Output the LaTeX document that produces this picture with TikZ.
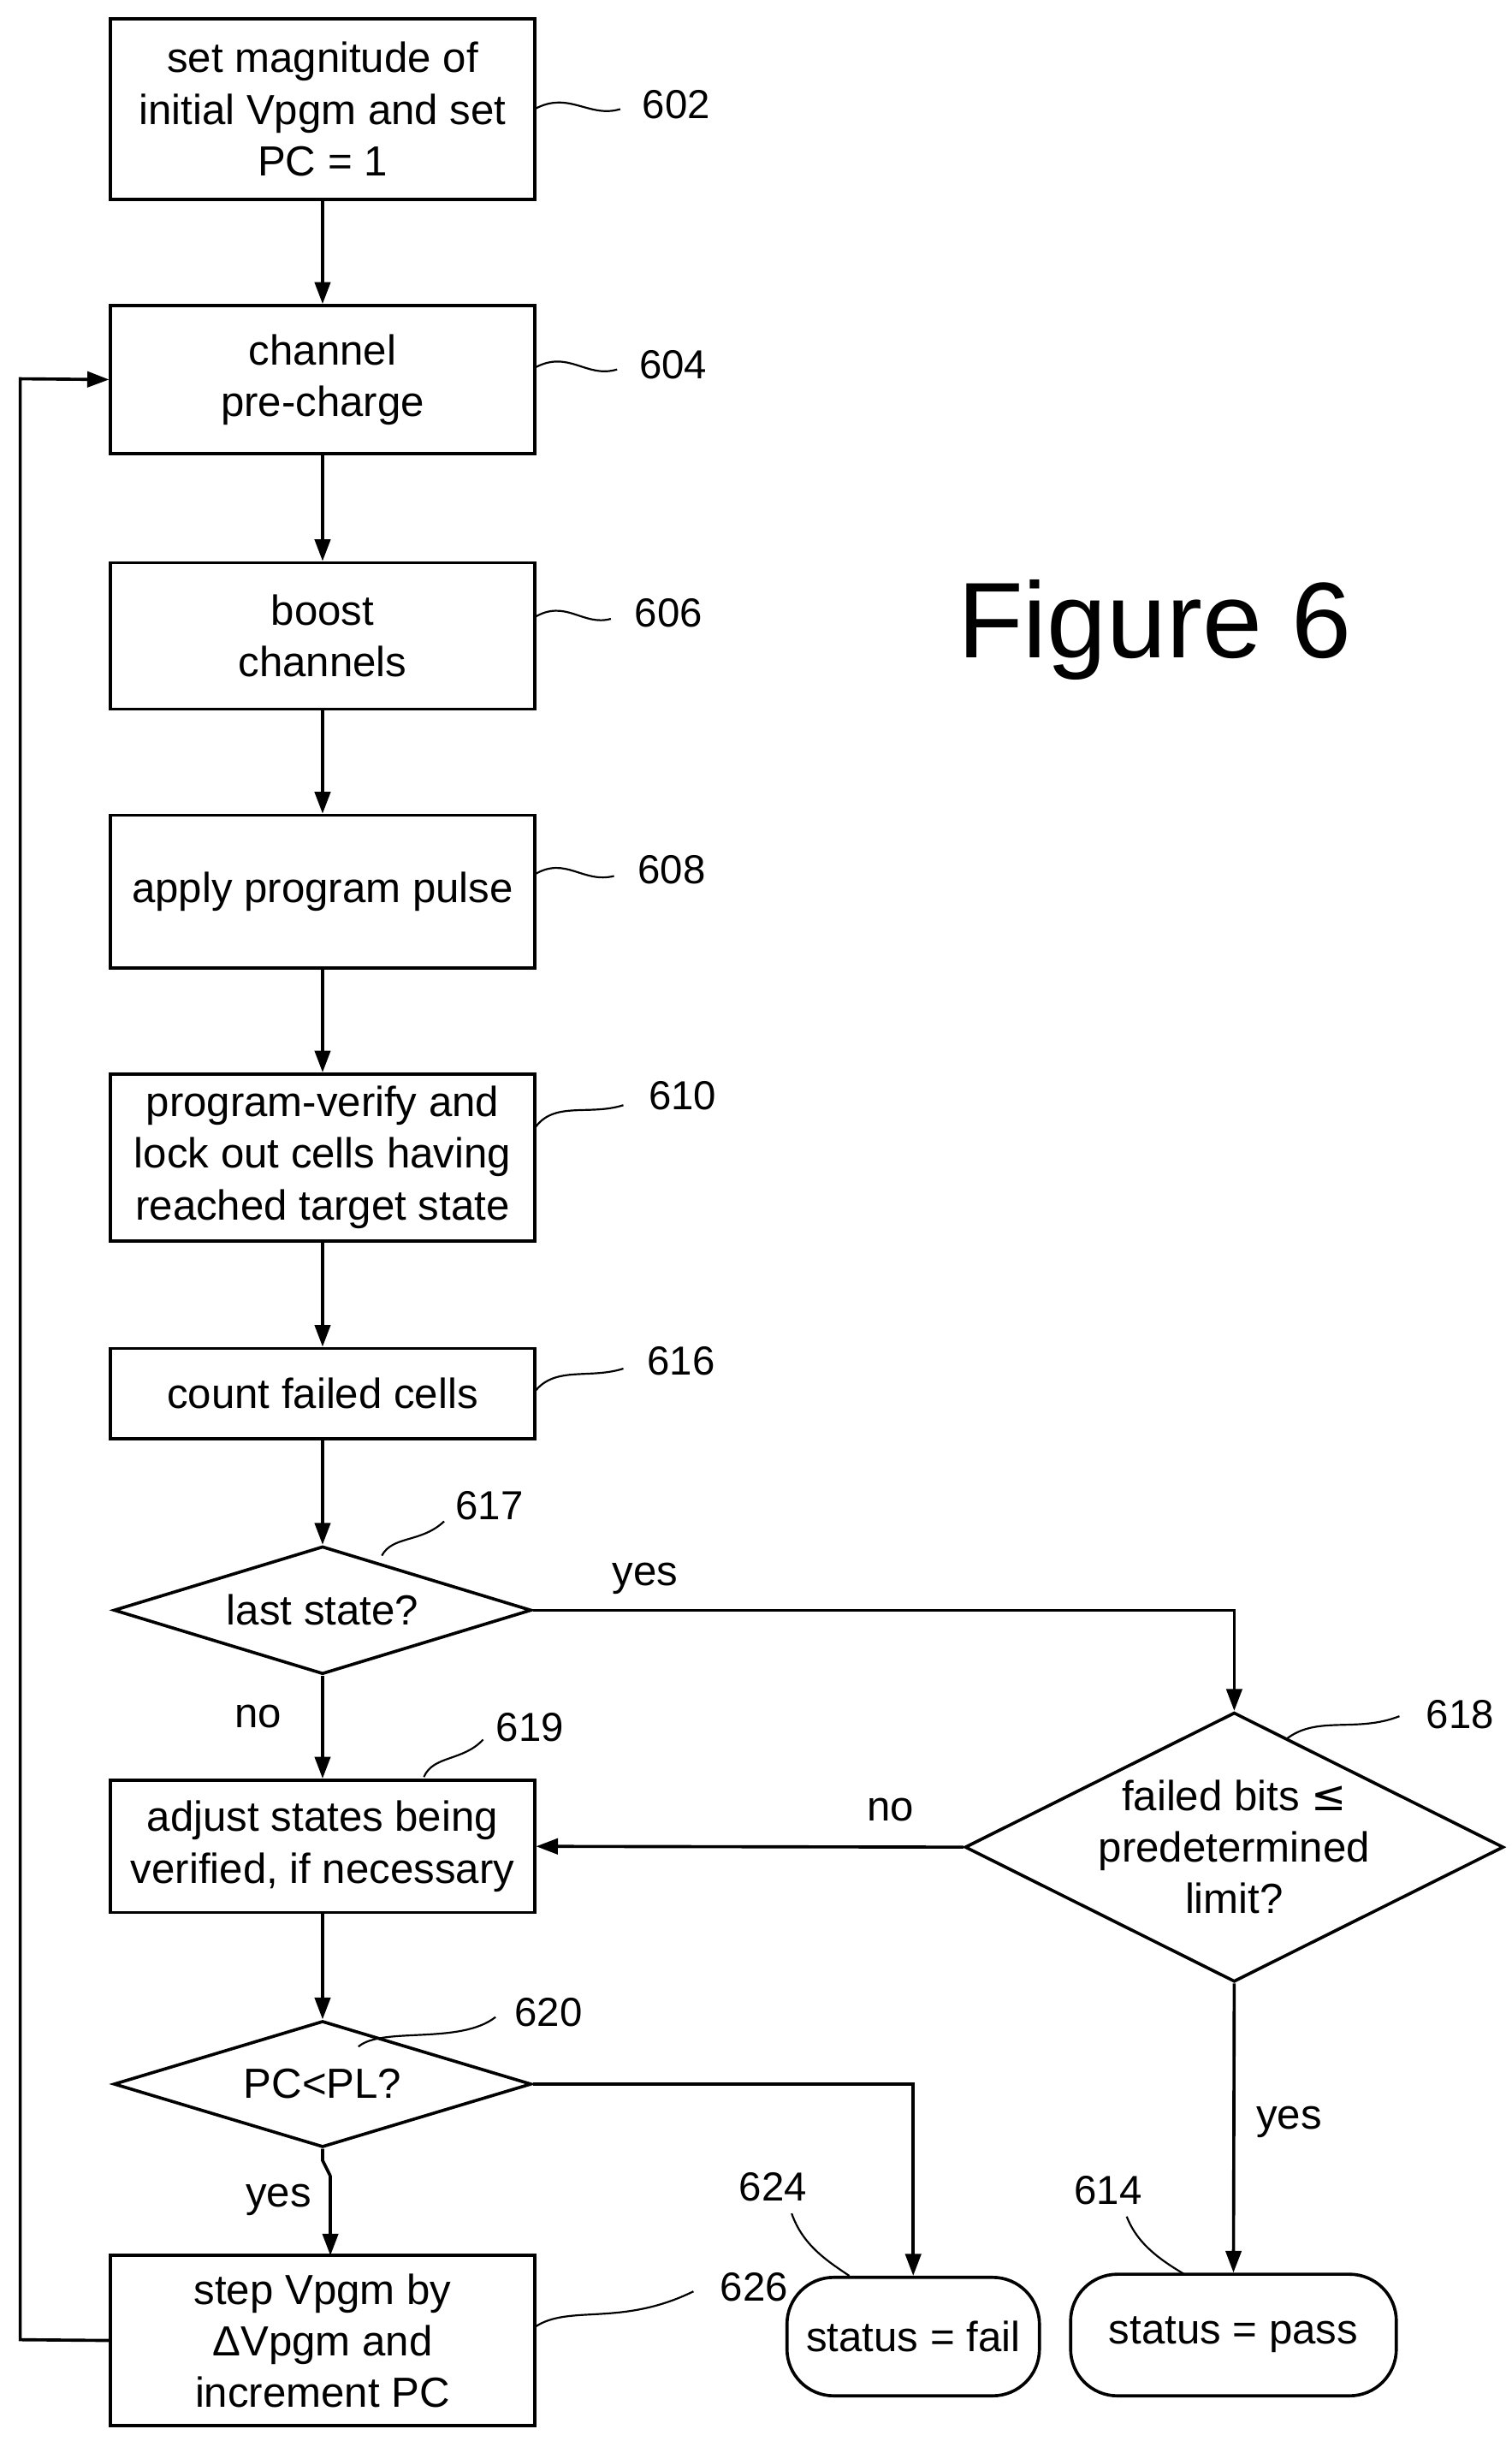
\documentclass[tikz,border=0pt]{standalone}
\usepackage{fontspec}
\setmainfont{Liberation Sans}
\usetikzlibrary{shapes.geometric,arrows.meta}
\begin{document}
\begin{tikzpicture}[x=1pt,y=-1pt,
  every node/.style={font=\fontsize{27}{33}\selectfont},
  box/.style={draw,line width=2pt,minimum width=272pt,align=center,inner sep=0pt},
  dia/.style={draw,line width=2pt,diamond,aspect=3.3,inner sep=0pt,align=center},
  term/.style={draw,line width=2pt,rounded corners=30pt,align=center,inner sep=0pt},
  ar/.style={line width=2pt,-{Triangle[length=14pt,width=10pt]}},
  ln/.style={line width=2pt},
  sq/.style={line width=1.2pt},
  lab/.style={font=\fontsize{26}{28}\selectfont}]
\useasboundingbox (0,0) rectangle (970,1566);
\node[box,minimum height=116pt] (b602) at (207,70) {set magnitude of\\initial Vpgm and set\\PC = 1};
\node[box,minimum height=95pt] (b604) at (207,243.5) {channel\\pre-charge};
\node[box,minimum height=94pt] (b606) at (207,408) {boost\\channels};
\node[box,minimum height=98pt] (b608) at (207,572) {apply program pulse};
\node[box,minimum height=107pt] (b610) at (207,742.5) {program-verify and\\lock out cells having\\reached target state};
\node[box,minimum height=58pt] (b616) at (207,894) {count failed cells};
\node[dia,minimum width=268pt,minimum height=82pt] (d617) at (207,1033) {last state?};
\node[box,minimum height=85pt] (b619) at (207,1184.5) {adjust states being\\verified, if necessary};
\node[dia,minimum width=268pt,minimum height=81pt] (d620) at (207,1337) {PC<PL?};
\node[box,minimum height=109pt] (b626) at (207,1501.5) {step Vpgm by\\ΔVpgm and\\increment PC};
\node[dia,minimum width=318pt,minimum height=157pt,aspect=2] (d618) at (792,1185) {failed bits \fontspec{DejaVu Sans}≤\\predetermined\\limit?};
\node[term,minimum width=162pt,minimum height=76pt] (fail) at (586,1499) {status = fail};
\node[term,minimum width=209pt,minimum height=78pt] (pass) at (791.5,1498) {status = pass};
\node[font=\fontsize{69}{75}\selectfont] (fig) at (741,404) {Figure 6};

\draw[ar] (b602) -- (b604);
\draw[ar] (b604) -- (b606);
\draw[ar] (b606) -- (b608);
\draw[ar] (b608) -- (b610);
\draw[ar] (b610) -- (b616);
\draw[ar] (b616) -- (d617);
\draw[ar] (d617) -- node[pos=0.4,left=22pt] {no} (b619);
\draw[ar] (d617.east) -| node[pos=0.08,above=6pt] {yes} (d618.north);
\draw[ar] (d618.west) -- node[pos=0.17,above=12pt] {no} (b619.east);
\draw[ar] (d618.south) -- node[pos=0.48,right=10pt] {yes} (pass.north);
\draw[ar] (b619) -- (d620);
\draw[ar] (d620.east) -| (fail.north);
\coordinate (j1) at (207,1386);
\coordinate (j2) at (212,1396);
\draw[ln] (d620.south) -- (j1) -- (j2);
\draw[ar] (j2) -- node[pos=0.3,left=8pt] {yes} (212,1447);
\coordinate (l1) at (13,1501);
\coordinate (l2) at (13,243);
\draw[ar] (b626.west) -- (l1) -- (l2) -- (b604.west);

% reference labels
\node[lab] (n602) at (434,67) {602};
\draw[sq] (343,70) .. controls (365,58) and (378,76) .. (398,70);
\node[lab] (n604) at (432,234) {604};
\draw[sq] (343,236) .. controls (365,224) and (376,243) .. (396,237);
\node[lab] (n606) at (429,393) {606};
\draw[sq] (343,396) .. controls (363,384) and (374,402) .. (392,397);
\node[lab] (n608) at (431,558) {608};
\draw[sq] (343,561) .. controls (363,549) and (374,567) .. (394,562);
\node[lab] (n610) at (438,703) {610};
\draw[sq] (343,724) .. controls (355,706) and (378,716) .. (400,709);
\node[lab] (n616) at (437,873) {616};
\draw[sq] (343,893) .. controls (356,876) and (378,885) .. (400,878);
\node[lab] (n617) at (314,966) {617};
\draw[sq] (245,998) .. controls (252,985) and (270,990) .. (285,976);
\node[lab] (n619) at (340,1108) {619};
\draw[sq] (272,1140) .. controls (278,1126) and (297,1130) .. (310,1116);
\node[lab] (n620) at (352,1291) {620};
\draw[sq] (230,1313) .. controls (245,1300) and (295,1312) .. (318,1294);
\node[lab] (n618) at (937,1100) {618};
\draw[sq] (825,1116) .. controls (845,1100) and (870,1112) .. (898,1101);
\node[lab] (n624) at (496,1403) {624};
\draw[sq] (545,1460) .. controls (530,1450) and (515,1440) .. (508,1420);
\node[lab] (n614) at (711,1405) {614};
\draw[sq] (760,1459) .. controls (745,1450) and (730,1440) .. (723,1422);
\node[lab] (n626) at (484,1467) {626};
\draw[sq] (343,1493) .. controls (365,1478) and (398,1493) .. (445,1470);
\end{tikzpicture}
\end{document}
